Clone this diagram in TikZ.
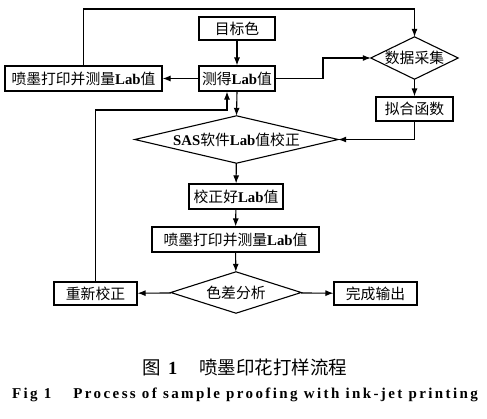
\documentclass[tikz,border=0pt]{standalone}
\usepackage{fontspec}
\setmainfont{Liberation Serif}
\newfontfamily\cjk{Noto Sans CJK SC}
\usetikzlibrary{shapes.geometric,arrows.meta}
\begin{document}
\begin{tikzpicture}[x=1pt,y=-1pt,
  box/.style={draw,line width=1.1pt,inner sep=0pt,font=\fontsize{14.8}{16}\selectfont},
  dia/.style={rectangle,inner sep=0pt,font=\fontsize{14.8}{16}\selectfont},
  edge/.style={line width=1.1pt,line join=miter},
  arr/.style={line width=1.1pt,-{Latex[length=8pt,width=6pt]}}]
\useasboundingbox (0,0) rectangle (487,418);
\fill[white] (0,0) rectangle (487,418);
\node[box,minimum width=76,minimum height=23] (tgt) at (237,28.5) {\cjk 目标色};
\node[box,minimum width=76,minimum height=25] (meas) at (237,78.5) {{\cjk 测得}\textbf{Lab}{\cjk 值}};
\node[box,minimum width=157,minimum height=25] (pl) at (83.5,78.5) {{\cjk 喷墨打印并测量}\textbf{Lab}{\cjk 值}};
\node[dia,minimum width=87,minimum height=42] (data) at (414.5,58) {\cjk 数据采集};
\node[box,minimum width=77,minimum height=24] (fit) at (414.5,109) {\cjk 拟合函数};
\node[dia,minimum width=203,minimum height=47] (sas) at (236.5,139.5) {\textbf{SAS}{\cjk 软件}\textbf{Lab}{\cjk 值校正}};
\node[box,minimum width=94,minimum height=25] (ok) at (236,196.5) {{\cjk 校正好}\textbf{Lab}{\cjk 值}};
\node[box,minimum width=167,minimum height=25] (pm) at (235.5,239.5) {{\cjk 喷墨打印并测量}\textbf{Lab}{\cjk 值}};
\node[dia,minimum width=130,minimum height=41] (diff) at (236,292.5) {\cjk 色差分析};
\node[box,minimum width=83,minimum height=23] (re) at (95.5,293.5) {\cjk 重新校正};
\node[box,minimum width=83,minimum height=23] (done) at (375.5,293.5) {\cjk 完成输出};
\foreach \d in {data,sas,diff}
  \draw[edge] (\d.north) -- (\d.east) -- (\d.south) -- (\d.west) -- cycle;
\coordinate (j1) at (323,78.5);
\coordinate (top) at (414.5,9);
\coordinate (fb) at (227,110);
\draw[arr] (tgt) -- (meas);
\draw[arr] (meas) -- (pl);
\draw[arr] (meas.east) -- (j1) |- (data.west);
\draw[arr] (pl.north) |- (top) -- (data.north);
\draw[arr] (data) -- (fit);
\draw[arr] (fit.south) |- (sas.east);
\draw[arr] (meas.south) -- (sas.north);
\draw[arr] (re.north) |- (fb) -- (fb |- meas.south);
\draw[arr] (sas) -- (ok);
\draw[arr] (ok) -- (pm);
\draw[arr] (pm) -- (diff);
\draw[arr] (diff) -- (re);
\draw[arr] (diff) -- (done);
\node[font=\fontsize{18.5}{20}\selectfont] (cap1) at (245,367) {{\cjk 图}\hspace{7pt}\textbf{1}\hspace{22pt}{\cjk 喷墨印花打样流程}};
\node[font=\fontsize{15}{17}\bfseries\addfontfeatures{LetterSpace=16}] (cap2) at (245,394.5) {Fig 1\hspace{22pt}Process of sample proofing with ink-jet printing};
\end{tikzpicture}
\end{document}
